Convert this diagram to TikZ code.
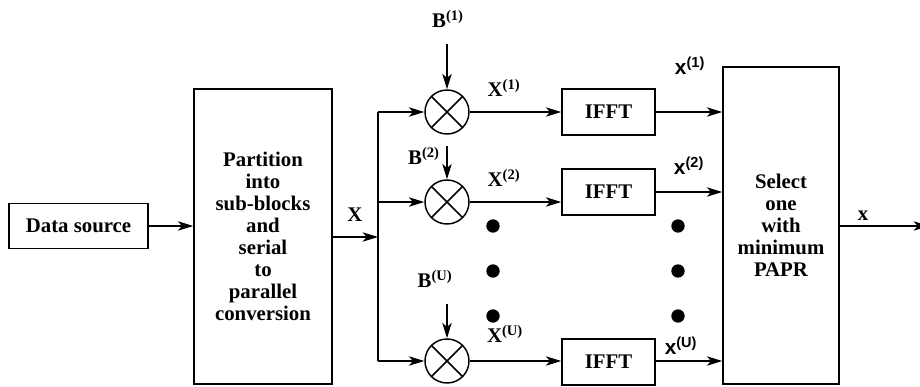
\documentclass[tikz,border=0pt]{standalone}
\usepackage{fontspec}
\setmainfont{Liberation Serif}
\newfontfamily\labsans{Liberation Sans}
\usetikzlibrary{arrows.meta}
\begin{document}
\begin{tikzpicture}[x=0.75pt,y=-0.75pt,
  every node/.style={font=\fontsize{15.6}{16.5}\selectfont\bfseries},
  blk/.style={draw,line width=1.1pt,inner sep=0pt,align=center},
  mult/.style={draw,circle,line width=1.1pt,minimum size=33pt,inner sep=0pt,
    path picture={\draw[line width=1.1pt] (path picture bounding box.south west) -- (path picture bounding box.north east)
      (path picture bounding box.north west) -- (path picture bounding box.south east);}},
  conn/.style={line width=1.1pt},
  arr/.style={conn,-{Stealth[length=11.5pt,width=7pt,inset=3pt]}},
  lbl/.style={inner sep=0pt},
  sanslbl/.style={inner sep=0pt,font=\labsans\fontsize{15.6}{16.5}\selectfont\bfseries},
  dotn/.style={circle,fill=black,minimum size=10pt,inner sep=0pt}]
\clip (0,0) rectangle (920,386);
% blocks
\node[blk,minimum width=104.25pt,minimum height=33.75pt] (ds) at (78.5,226) {Data source};
\node[blk,minimum width=103.5pt,minimum height=221.25pt] (part) at (263,236.5) {Partition\\into\\sub-blocks\\and\\serial\\to\\parallel\\conversion};
\node[mult] (m1) at (447,112) {};
\node[mult] (m2) at (447,202) {};
\node[mult] (mU) at (447,361) {};
\node[blk,minimum width=69.75pt,minimum height=34.5pt] (f1) at (608.5,112) {IFFT};
\node[blk,minimum width=69.75pt,minimum height=34.5pt] (f2) at (608.5,192) {IFFT};
\node[blk,minimum width=69.75pt,minimum height=34.5pt] (fU) at (608.5,362) {IFFT};
\node[blk,minimum width=87pt,minimum height=237.75pt] (sel) at (781,225.5) {Select\\one\\with\\minimum\\PAPR};
% coordinates
\coordinate (busm) at (378,237);
\coordinate (bus1) at (378,112);
\coordinate (bus2) at (378,202);
\coordinate (busU) at (378,361);
\coordinate (b1) at (447,44);
\coordinate (b2) at (447,146);
\coordinate (bU) at (447,304);
\coordinate (out) at (929,226);
% connectors
\draw[arr] (ds.east) -- (part.west |- ds.east);
\draw[arr] (part.east |- busm) -- (busm);
\draw[conn] (bus1) -- (busU);
\draw[arr] (bus1) -- (m1.west);
\draw[arr] (bus2) -- (m2.west);
\draw[arr] (busU) -- (mU.west);
\draw[arr] (b1) -- (m1.north);
\draw[arr] (b2) -- (m2.north);
\draw[arr] (bU) -- (mU.north);
\draw[arr] (m1.east) -- (f1.west |- m1.east);
\draw[arr] (m2.east) -- (f2.west |- m2.east);
\draw[arr] (mU.east) -- (fU.west |- mU.east);
\draw[arr] (f1.east) -- (sel.west |- f1.east);
\draw[arr] (f2.east) -- (sel.west |- f2.east);
\draw[arr] (fU.east |- 0,361) -- (sel.west |- 0,361);
\draw[arr] (sel.east |- out) -- (out);
% labels
\node[lbl] (lX) at (355,215) {X};
\node[lbl] (lB1) at (448,19) {B\textsuperscript{(1)}};
\node[lbl] (lB2) at (424,156) {B\textsuperscript{(2)}};
\node[lbl] (lBU) at (435,279) {B\textsuperscript{(U)}};
\node[lbl] (lX1) at (504,88) {X\textsuperscript{(1)}};
\node[lbl] (lX2) at (504,178) {X\textsuperscript{(2)}};
\node[lbl] (lXU) at (505,334) {X\textsuperscript{(U)}};
\node[sanslbl] (lx1) at (690,66) {x\textsuperscript{(1)}};
\node[sanslbl] (lx2) at (689,166) {x\textsuperscript{(2)}};
\node[sanslbl] (lxU) at (681,346) {x\textsuperscript{(U)}};
\node[lbl] (lx) at (863,216) {x};
% dots
\foreach \yy [count=\i] in {226,271,316}{
  \node[dotn] (dl\i) at (493,\yy) {};
  \node[dotn] (dr\i) at (678,\yy) {};
}
\end{tikzpicture}
\end{document}
